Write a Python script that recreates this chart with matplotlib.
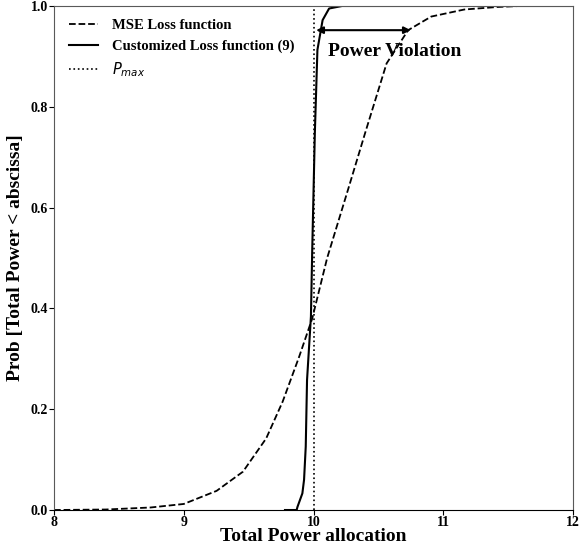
import matplotlib
matplotlib.use('Agg')
import matplotlib.pyplot as plt

# CDF of total power
mse_x = [8.0, 8.4, 8.744, 9.0, 9.253, 9.456, 9.635, 9.762, 9.889, 9.99, 10.105,
         10.271, 10.40, 10.563, 10.729, 10.907, 11.162, 11.416, 11.59, 12.0]
mse_y = [0.0, 0.001, 0.005, 0.012, 0.038, 0.076, 0.142, 0.215, 0.304, 0.38, 0.50,
         0.64, 0.75, 0.886, 0.952, 0.979, 0.993, 0.998, 1.0, 1.0]

custom_x = [9.78, 9.87, 9.876, 9.914, 9.927, 9.94, 9.95, 9.98, 9.99, 10.01,
            10.03, 10.07, 10.12, 10.22, 12.0]
custom_y = [0.0, 0.0, 0.006, 0.033, 0.06, 0.126, 0.258, 0.384, 0.516, 0.747,
            0.913, 0.972, 0.995, 1.0, 1.0]

p_max = 10.0
violation = (10.02, 10.75, 0.952)

plt.rcParams['font.family'] = 'Liberation Serif'

fig = plt.figure(figsize=(5.79, 5.54), dpi=100)
ax = fig.add_axes([0.0933, 0.0794, 0.8964, 0.9098])

ax.plot(mse_x, mse_y, 'k--', lw=1.3, label='MSE Loss function')
ax.plot(custom_x, custom_y, 'k-', lw=1.5, label='Customized Loss function (9)')
ax.axvline(p_max, color='k', ls=':', lw=1.2, label='$P_{max}$')

ax.annotate('', xy=(violation[0], violation[2]), xytext=(violation[1], violation[2]),
            arrowprops=dict(arrowstyle='<|-|>', color='k', lw=1.5,
                            mutation_scale=10, shrinkA=0, shrinkB=0))
ax.text(10.11, 0.90, 'Power Violation', fontsize=14, fontweight='bold')

ax.set_xlim(8, 12)
ax.set_ylim(0, 1)
ax.set_xticks([8, 9, 10, 11, 12])
ax.set_yticks([0.0, 0.2, 0.4, 0.6, 0.8, 1.0])
ax.tick_params(labelsize=10, length=3.5, pad=0.8)
for lab in ax.get_xticklabels() + ax.get_yticklabels():
    lab.set_fontweight('bold')
for s in ax.spines.values():
    s.set_color('0.35')
ax.spines['bottom'].set_color('k')

ax.set_xlabel('Total Power allocation', fontsize=14, fontweight='bold', labelpad=-1)
ax.set_ylabel('Prob [Total Power < abscissa]', fontsize=14, fontweight='bold', labelpad=5)

leg = ax.legend(loc='upper left', bbox_to_anchor=(0.003, 1.0), frameon=False,
                handletextpad=1.0, prop={'size': 10.5, 'weight': 'bold'})
leg.get_texts()[2].set_fontweight('normal')

fig.savefig('out.png', dpi=100)
